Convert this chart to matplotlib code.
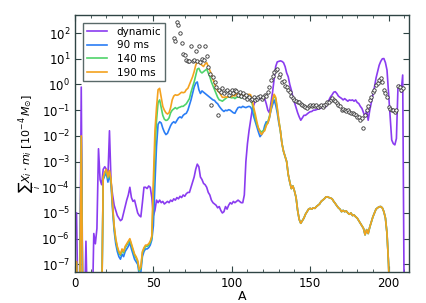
import numpy as np
import matplotlib
matplotlib.use("Agg")
import matplotlib.pyplot as plt

# Mass numbers
A = list(range(1, 211))

# log10 of sum X_i m_i [1e-4 Msun] (-9 = below the axis)
dyn_log = [
    -5.0, -9, -9, -0.1, -9, -9, -6.1, -9, -9, -9,
    -9, -5.8, -6.2, -5.6, -2.5, -3.7, -3.9, -3.3, -3.2, -3.3,
    -3.6, -1.8, -3.8, -4.3, -4.7, -4.9, -5.1, -5.2, -5.3, -5.25,
    -5.0, -4.75, -4.5, -4.3, -4.0, -4.4, -4.55, -4.5, -4.75, -5.0,
    -5.1, -5.15, -4.6, -4.0, -4.0, -4.05, -3.95, -4.0, -4.4, -5.1,
    -4.9, -4.5, -4.6, -4.5, -4.6, -4.55, -4.65, -4.6, -4.55, -4.6,
    -4.5, -4.55, -4.45, -4.5, -4.4, -4.45, -4.35, -4.4, -4.3, -4.35,
    -4.25, -4.2, -4.2, -4.0, -3.8, -3.6, -3.3, -3.1, -3.2, -3.6,
    -3.7, -3.85, -3.9, -4.0, -4.2, -4.3, -4.5, -4.6, -4.65, -4.7,
    -4.8, -4.75, -4.9, -5.0, -4.95, -4.75, -4.85, -4.7, -4.6, -4.65,
    -4.55, -4.6, -4.55, -4.5, -4.55, -4.6, -4.6, -4.3, -3.0, -2.3,
    -1.8, -1.4, -1.0, -0.8, -0.65, -0.6, -0.58, -0.55, -0.5, -0.48,
    -0.55, -0.75, -1.0, -1.1, -0.7, -0.3, 0.2, 0.7, 0.88, 0.9,
    0.92, 0.9, 0.85, 0.7, 0.45, 0.3, 0.0, -0.22, -0.5, -0.7,
    -0.9, -1.1, -1.26, -1.39, -1.3, -1.2, -1.2, -1.15, -1.1, -1.06,
    -1.05, -1.0, -1.0, -0.98, -0.95, -0.95, -0.9, -0.88, -0.85, -0.87,
    -0.75, -0.6, -0.48, -0.4, -0.3, -0.28, -0.35, -0.45, -0.5, -0.54,
    -0.6, -0.55, -0.6, -0.65, -0.6, -0.62, -0.6, -0.65, -0.6, -0.7,
    -0.74, -0.85, -0.93, -1.1, -1.26, -1.0, -1.39, -1.0, -0.7, -0.4,
    -0.1, 0.25, 0.5, 0.75, 0.9, 1.0, 1.01, 0.85, 0.56, -0.35,
    -1.26, -2.16, -2.3, -2.35, -2.1, -0.1, -0.03, -0.3, 0.37, -9,
]

# A = 1..49
ms190_low = [
    -6.9, -9, -9, -2.0, -9, -9, -9, -9, -9, -9,
    -9, -9, -9, -9, -9, -9, -9, -3.6, -3.4, -3.3,
    -3.6, -3.35, -3.7, -4.7, -5.5, -6.0, -6.3, -6.5, -6.6, -6.4,
    -6.5, -6.3, -6.2, -6.1, -6.0, -6.2, -6.4, -6.6, -6.7, -6.85,
    -7.2, -7.1, -6.5, -6.35, -6.25, -6.25, -6.2, -6.1, -5.9,
]
ms140_low = [
    -6.95, -9, -9, -2.02, -9, -9, -9, -9, -9, -9,
    -9, -9, -9, -9, -9, -9, -9, -3.65, -3.45, -3.35,
    -3.65, -3.4, -3.75, -4.75, -5.55, -6.05, -6.35, -6.55, -6.65, -6.45,
    -6.55, -6.35, -6.25, -6.15, -6.05, -6.25, -6.45, -6.65, -6.75, -6.9,
    -7.25, -7.15, -6.55, -6.4, -6.3, -6.3, -6.25, -6.15, -5.95,
]
ms90_low = [
    -7.0, -9, -9, -2.05, -9, -9, -9, -9, -9, -9,
    -9, -9, -9, -9, -9, -9, -9, -3.7, -3.55, -3.45,
    -3.8, -3.5, -3.9, -4.9, -5.7, -6.2, -6.5, -6.7, -6.8, -6.6,
    -6.7, -6.5, -6.4, -6.3, -6.15, -6.4, -6.6, -6.8, -6.9, -7.0,
    -7.4, -7.3, -6.7, -6.5, -6.4, -6.4, -6.35, -6.25, -6.05,
]

# A = 50..130
ms190_mid = [
    -3.7, -1.8, -0.9, -0.2, -0.15, -0.5, -0.85, -1.0, -1.1, -1.15,
    -1.1, -0.9, -0.6, -0.45, -0.4, -0.42, -0.4, -0.35, -0.3, -0.32,
    -0.3, -0.2, -0.15, 0.0, 0.15, 0.3, 0.5, 0.75, 0.9, 0.85,
    0.8, 0.75, 0.7, 0.8, 0.85, 0.7, 0.55, 0.4, 0.2, 0.05,
    -0.15, -0.25, -0.3, -0.4, -0.5, -0.5, -0.48, -0.5, -0.45, -0.45,
    -0.48, -0.4, -0.45, -0.35, -0.4, -0.42, -0.4, -0.45, -0.4, -0.42,
    -0.4, -0.38, -0.4, -0.6, -0.9, -1.15, -1.45, -1.7, -1.85, -1.95,
    -1.85, -1.8, -1.6, -1.5, -1.3, -0.95, -0.6, -0.38, -0.5, -0.9,
    -1.4,
]
ms140_mid = [
    -4.2, -2.5, -1.4, -0.7, -0.6, -0.9, -1.2, -1.35, -1.4, -1.38,
    -1.3, -1.1, -1.0, -0.95, -0.9, -0.95, -0.9, -0.88, -0.85, -0.85,
    -0.8, -0.75, -0.65, -0.55, -0.3, -0.1, 0.1, 0.35, 0.6, 0.63,
    0.5, 0.45, 0.5, 0.55, 0.6, 0.45, 0.3, 0.1, -0.05, -0.2,
    -0.35, -0.5, -0.6, -0.62, -0.65, -0.6, -0.55, -0.5, -0.48, -0.5,
    -0.52, -0.5, -0.55, -0.5, -0.48, -0.5, -0.52, -0.5, -0.48, -0.5,
    -0.48, -0.5, -0.55, -0.75, -1.0, -1.3, -1.55, -1.7, -1.8, -1.85,
    -1.8, -1.75, -1.55, -1.45, -1.25, -0.95, -0.62, -0.42, -0.55, -0.95,
    -1.4,
]
ms90_mid = [
    -5.5, -3.85, -2.4, -1.55, -1.45, -1.5, -1.7, -1.85, -1.95, -1.9,
    -1.75, -1.6, -1.5, -1.45, -1.5, -1.4, -1.3, -1.26, -1.3, -1.2,
    -1.15, -1.12, -1.0, -0.8, -0.6, -0.35, -0.1, 0.05, 0.1, -0.2,
    -0.35, -0.25, -0.3, -0.35, -0.4, -0.45, -0.5, -0.55, -0.6, -0.62,
    -0.7, -0.75, -0.85, -0.93, -1.0, -1.05, -1.0, -1.02, -0.98, -1.0,
    -1.05, -1.1, -1.12, -1.0, -0.9, -0.88, -0.9, -0.85, -0.88, -0.9,
    -0.87, -0.85, -0.88, -1.0, -1.25, -1.45, -1.65, -1.85, -2.03, -1.95,
    -1.85, -1.6, -1.45, -1.5, -1.3, -1.0, -0.8, -0.6, -0.8, -1.1,
    -1.5,
]

# A = 131..210, common to all three post-processed times
late_tail = [
    -1.8, -2.3, -2.6, -2.8, -3.0, -3.5, -3.8, -4.05, -3.95, -4.15,
    -4.4, -4.9, -5.25, -5.4, -5.3, -5.2, -5.05, -4.95, -4.85, -4.82,
    -4.85, -4.8, -4.82, -4.75, -4.7, -4.65, -4.55, -4.5, -4.45, -4.38,
    -4.37, -4.4, -4.42, -4.45, -4.55, -4.63, -4.72, -4.8, -4.85, -4.95,
    -4.9, -4.95, -4.92, -5.0, -5.05, -5.0, -5.1, -5.08, -5.15, -5.2,
    -5.3, -5.4, -5.5, -5.6, -5.85, -5.65, -5.8, -5.55, -5.35, -5.15,
    -5.0, -4.85, -4.8, -4.76, -4.75, -4.8, -4.95, -5.2, -5.8, -7.0,
    -9, -9, -9, -9, -9, -9, -9, -9, -9, -9,
]

# Solar r-process pattern (open circles), A = 63..209
solar_A = list(range(63, 210))
solar_log = [
    1.8, 1.7, 2.45, 2.3, 2.0, 1.6, 1.2, 1.15, 0.95, 0.9,
    0.9, 1.5, 0.92, 0.95, 1.3, 0.9, 1.5, 0.88, 1.0, 0.95,
    1.5, 1.1, 0.7, 0.4, -0.8, 0.3, 0.1, -0.1, -1.2, -0.2,
    -0.3, -0.15, -0.35, -0.25, -0.2, -0.4, -0.3, -0.22, -0.35, -0.2,
    -0.25, -0.4, -0.3, -0.45, -0.35, -0.5, -0.4, -0.55, -0.5, -0.6,
    -0.55, -0.5, -0.6, -0.55, -0.5, -0.45, -0.55, -0.5, -0.4, -0.45,
    -0.3, -0.1, 0.17, 0.35, 0.5, 0.56, 0.6, 0.3, 0.4, 0.1,
    0.15, -0.05, -0.09, -0.22, -0.3, -0.45, -0.54, -0.6, -0.65, -0.67,
    -0.7, -0.74, -0.8, -0.85, -0.87, -0.9, -0.85, -0.8, -0.82, -0.78,
    -0.85, -0.8, -0.87, -0.82, -0.8, -0.87, -0.8, -0.75, -0.7, -0.67,
    -0.6, -0.54, -0.6, -0.65, -0.72, -0.8, -0.85, -1.0, -0.95, -1.0,
    -1.05, -1.0, -1.08, -1.12, -1.1, -1.15, -1.2, -1.25, -1.26, -1.39,
    -1.3, -1.71, -1.2, -1.0, -0.85, -0.6, -0.5, -0.3, -0.2, -0.02,
    0.05, 0.17, 0.24, 0.1, -0.22, -0.35, -0.48, -0.87, -0.95, -1.0,
    -1.0, -1.06, -1.0, -0.05, -0.09, -0.22, -0.15,
]

labels = ["dynamic", "90 ms", "140 ms", "190 ms"]
colors = ["#8a3cf0", "#2a7df5", "#4fd36a", "#f4a21e"]

ms90 = ms90_low + ms90_mid + late_tail
ms140 = ms140_low + ms140_mid + late_tail
ms190 = ms190_low + ms190_mid + late_tail
series = [dyn_log, ms90, ms140, ms190]

fig = plt.figure(figsize=(4.26, 3.03), dpi=100)
ax = fig.add_axes([0.176, 0.102, 0.784, 0.848])

for vals, lab, col in zip(series, labels, colors):
    ax.plot(A, np.power(10.0, vals), color=col, lw=1.2, label=lab)

ax.scatter(solar_A, np.power(10.0, solar_log), s=6, facecolors="white",
           edgecolors="#333333", linewidths=0.6, zorder=5)

ax.set_yscale("log")
ax.set_xlim(0, 213)
ax.set_ylim(5e-8, 5e2)
ax.set_xticks([0, 50, 100, 150, 200])
ax.set_xticks(list(range(0, 211, 10)), minor=True)
ax.set_yticks([1e-7, 1e-6, 1e-5, 1e-4, 1e-3, 1e-2, 1e-1, 1e0, 1e1, 1e2])

spine_col = "#2f4444"
for sp in ax.spines.values():
    sp.set_color(spine_col)
    sp.set_linewidth(1.0)
ax.tick_params(which="both", direction="in", top=True, right=True,
               color=spine_col, labelsize=8.5)
ax.tick_params(which="major", length=4)
ax.tick_params(which="minor", length=2)

ax.set_xlabel("A", fontsize=9, labelpad=0)
ax.set_ylabel(r"$\sum_i X_i \cdot m_i\ [10^{-4}\,M_{\odot}]$", fontsize=8)
ax.yaxis.set_label_coords(-0.095, 0.5)

leg = ax.legend(loc="upper left", fontsize=7.5, frameon=True, fancybox=False,
                handlelength=2.0, handletextpad=0.9, borderpad=0.35,
                labelspacing=0.35, bbox_to_anchor=(0.008, 0.99))
leg.get_frame().set_edgecolor(spine_col)
leg.get_frame().set_linewidth(1.0)

fig.savefig("out.png", dpi=100)
